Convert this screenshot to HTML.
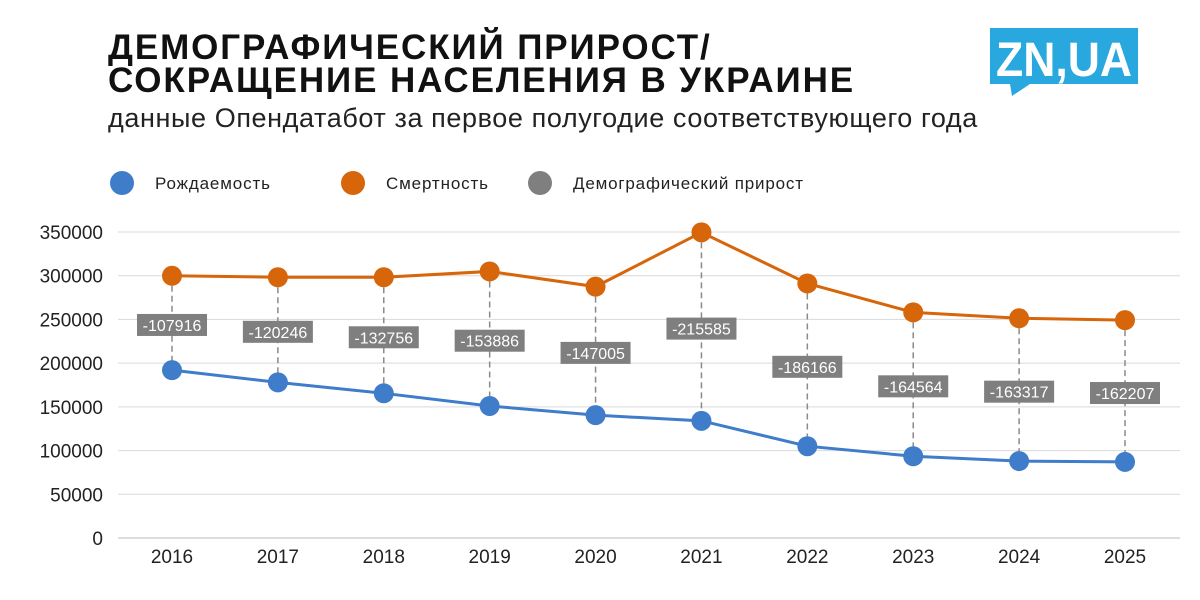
<!DOCTYPE html>
<html><head><meta charset="utf-8">
<style>
body{margin:0;width:1200px;height:600px;background:#fff;overflow:hidden;font-family:"Liberation Sans",sans-serif;}
#wrap{position:relative;width:1200px;height:600px;}
.title{position:absolute;left:108px;top:31px;font-size:35px;font-weight:bold;line-height:33px;color:#111;letter-spacing:1.9px;}
.sub{position:absolute;left:108px;top:103px;font-size:27px;color:#222;letter-spacing:0.6px;}
</style></head><body>
<div id="wrap">
<div class="title">ДЕМОГРАФИЧЕСКИЙ ПРИРОСТ/<br>СОКРАЩЕНИЕ НАСЕЛЕНИЯ В УКРАИНЕ</div>
<div class="sub">данные Опендатабот за первое полугодие соответствующего года</div>
<svg width="1200" height="600" style="position:absolute;left:0;top:0" id="svg">
<g>
<rect x="990" y="28" width="148" height="56" fill="#29a8e0"/>
<polygon points="1010,84 1030,84 1012,96" fill="#29a8e0"/>
<text x="1064" y="76" text-anchor="middle" font-size="48" font-weight="bold" fill="#fff" font-family="Liberation Sans, sans-serif" textLength="136" lengthAdjust="spacingAndGlyphs">ZN,UA</text>
</g>
<g font-size="17">
<circle cx="122" cy="183" r="12" fill="#3f7cc9"/>
<text x="155" y="189" fill="#222" textLength="115">Рождаемость</text>
<circle cx="353" cy="183" r="12" fill="#d7650a"/>
<text x="386" y="189" fill="#222" textLength="102">Смертность</text>
<circle cx="540" cy="183" r="12" fill="#7f7f7f"/>
<text x="573" y="189" fill="#222" textLength="230">Демографический прирост</text>
</g>
<g id="plot"></g>
</svg>
</div>
<script>
const years=["2016","2017","2018","2019","2020","2021","2022","2023","2024","2025"];
const births=[192000,178000,165500,151000,140500,134000,105000,93500,88000,87000];
const deaths=[299916,298246,298256,304886,287505,349585,291166,258064,251317,249207];
const growth=[-107916,-120246,-132756,-153886,-147005,-215585,-186166,-164564,-163317,-162207];
const yTicks=[0,50000,100000,150000,200000,250000,300000,350000];
const NS="http://www.w3.org/2000/svg";
const g=document.getElementById('plot');
const y=v=>538-v/350000*306;
const x=i=>172+i*(1125-172)/9;
function mk(t,a,p){const e=document.createElementNS(NS,t);for(const k in a)e.setAttribute(k,a[k]);(p||g).appendChild(e);return e;}
yTicks.forEach(v=>{
 const l=mk('line',{x1:118,x2:1180,y1:y(v),y2:y(v),stroke:v===0?'#bbb':'#d9d9d9','stroke-width':1});
 
 
 const t=mk('text',{x:103,y:y(v)+7,'text-anchor':'end','font-size':19,fill:'#222'});t.textContent=v;
 
 
});
years.forEach((yr,i)=>{
 const t=mk('text',{x:x(i),y:563,'text-anchor':'middle','font-size':19,fill:'#222'});t.textContent=yr;
 
 
 const d=mk('line',{x1:x(i),x2:x(i),y1:y(deaths[i]),y2:y(births[i]),stroke:'#8a8a8a','stroke-width':1.5,'stroke-dasharray':'6,4'});
 
 
});
function line(arr,col,name){
 const p=mk('polyline',{points:arr.map((v,i)=>x(i)+','+y(v)).join(' '),fill:'none',stroke:col,'stroke-width':3});
 
 
}
line(deaths,'#d7650a','deaths');line(births,'#3f7cc9','births');
years.forEach((yr,i)=>{
 const m=(y(deaths[i])+y(births[i]))/2+2;
 const r=mk('rect',{x:x(i)-35,y:m-11,width:70,height:22,fill:'#7f7f7f'});
 
 
 const t=mk('text',{x:x(i),y:m+6,'text-anchor':'middle','font-size':16,fill:'#fff'});t.textContent=growth[i];
 
 
 const c1=mk('circle',{cx:x(i),cy:y(deaths[i]),r:10,fill:'#d7650a'});
 
 
 const c2=mk('circle',{cx:x(i),cy:y(births[i]),r:10,fill:'#3f7cc9'});
 
 
});
</script>
</body></html>
